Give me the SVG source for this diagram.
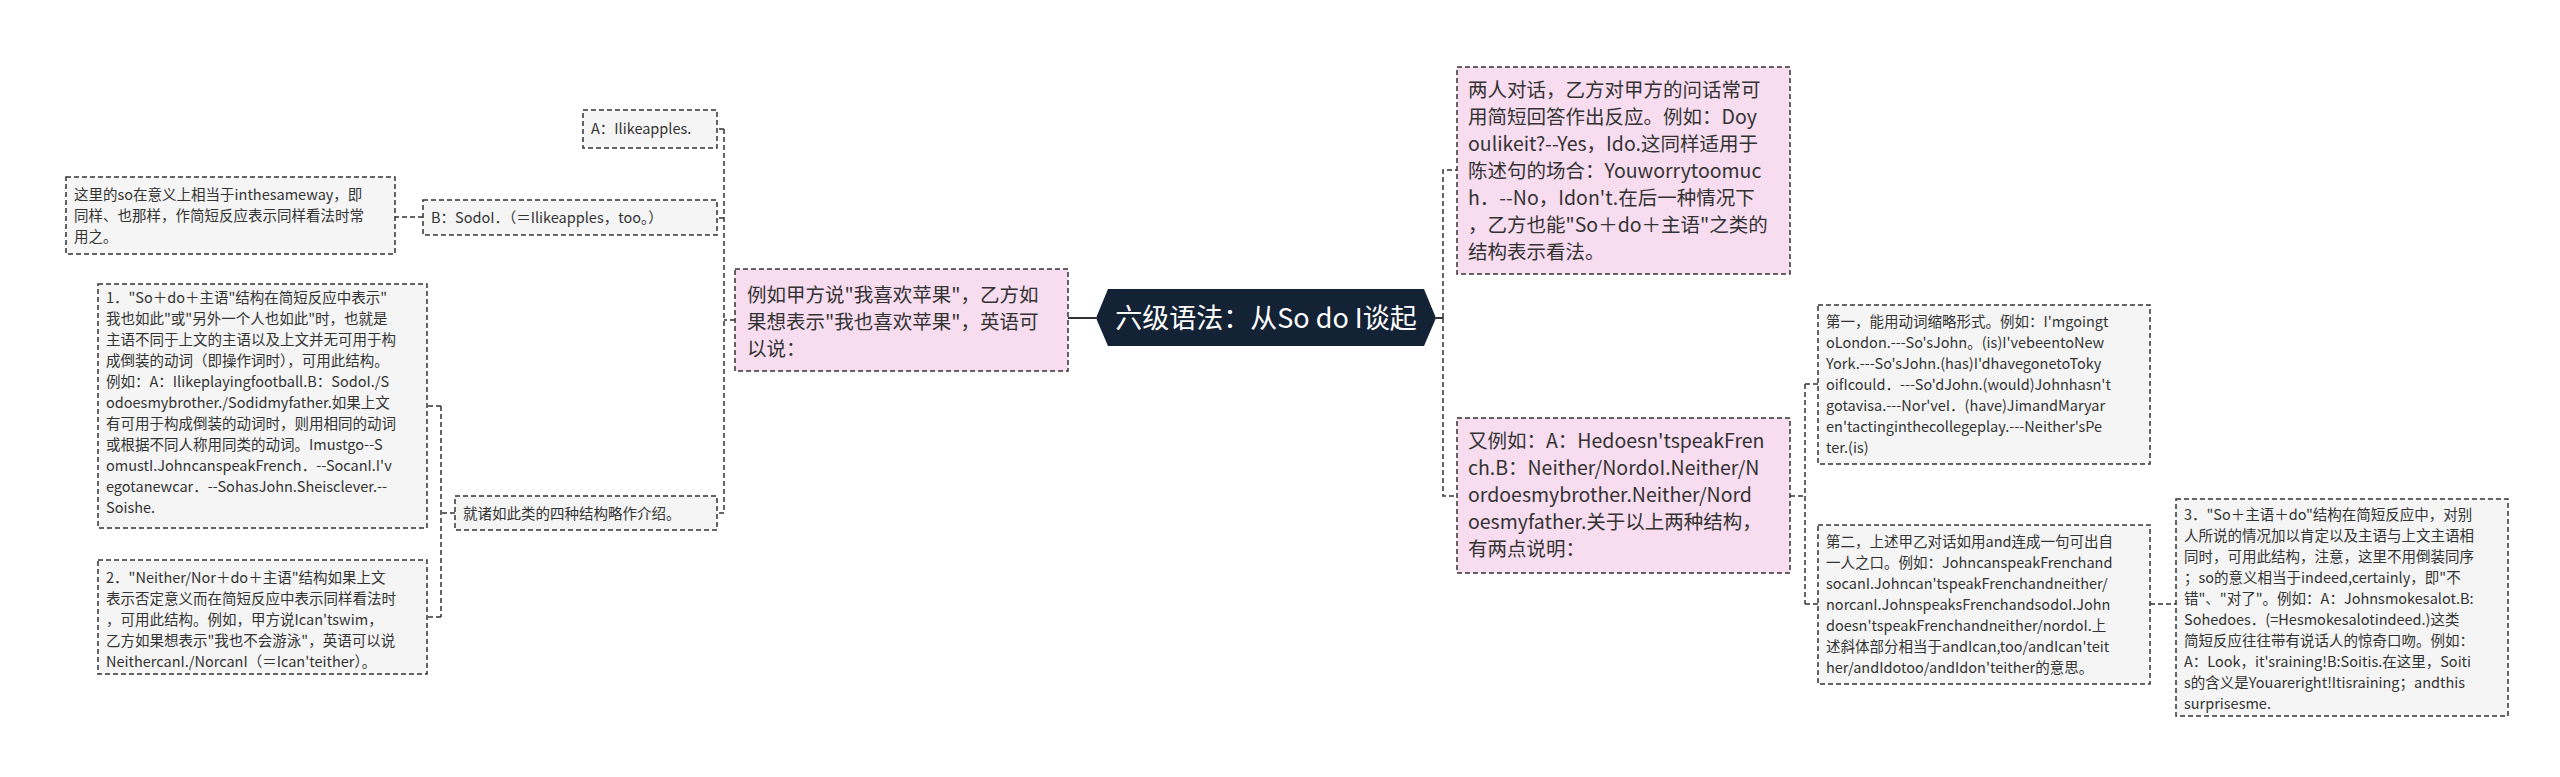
<svg xmlns="http://www.w3.org/2000/svg" width="2560" height="777" viewBox="0 0 2560 777">
<style>
text{font-family:"Noto Sans CJK SC","Noto Sans",sans-serif;fill:#333}
.g rect{fill:#f5f5f5;stroke:#333;stroke-width:1.5;stroke-dasharray:5,3}
.p rect{fill:#f8dcf0;stroke:#333;stroke-width:1.5;stroke-dasharray:5,3}
.g text{font-size:14.5px}
.p text{font-size:19.5px}
.c path{fill:none;stroke:#333;stroke-width:1.5;stroke-dasharray:5,3}
</style>
<g class="c" id="connectors">
<path d="M1096 318H1068" style="stroke-dasharray:none;stroke-width:2"/>
<path d="M1436 318H1443" style="stroke-dasharray:none;stroke-width:2"/>
<path d="M735 320H724M724 129V513M724 129H717M724 218H717M724 513H717"/>
<path d="M423 217H395"/>
<path d="M455 513H441M441 406V617M441 406H427M441 617H427"/>
<path d="M1443 318V170H1457M1443 318V496H1457"/>
<path d="M1790 496H1805M1805 384V604M1805 384H1818M1805 604H1818"/>
<path d="M2150 604H2176"/>
</g>
<g id="center">
<polygon points="1108,289 1424,289 1436,318 1424,346 1108,346 1096,318" fill="#142235"/>
<text x="1266" y="328" text-anchor="middle" style="font-size:27px;fill:#fff">六级语法：从So do I谈起</text>
</g>
<g id="n_left" class="p"><rect x="735" y="269" width="333" height="102"/>
<text x="747" y="302">例如甲方说"我喜欢苹果"，乙方如</text><text x="747" y="329">果想表示"我也喜欢苹果"，英语可</text><text x="747" y="356">以说：</text></g>
<g id="n_a" class="g"><rect x="583" y="110" width="134" height="38"/><text x="591" y="134">A：Ilikeapples.</text></g>
<g id="n_b" class="g"><rect x="423" y="200" width="294" height="35"/><text x="431" y="223">B：SodoI．（＝Ilikeapples，too。）</text></g>
<g id="n_so" class="g"><rect x="66" y="177" width="329" height="77"/>
<text x="74" y="200">这里的so在意义上相当于inthesameway，即</text><text x="74" y="221">同样、也那样，作简短反应表示同样看法时常</text><text x="74" y="242">用之。</text></g>
<g id="n_four" class="g"><rect x="455" y="496" width="262" height="34"/><text x="463" y="519">就诸如此类的四种结构略作介绍。</text></g>
<g id="n_1" class="g"><rect x="98" y="284" width="329" height="244"/>
<text x="106" y="303">1．"So＋do＋主语"结构在简短反应中表示"</text>
<text x="106" y="324">我也如此"或"另外一个人也如此"时，也就是</text>
<text x="106" y="345">主语不同于上文的主语以及上文并无可用于构</text>
<text x="106" y="366">成倒装的动词（即操作词时），可用此结构。</text>
<text x="106" y="387">例如：A：Ilikeplayingfootball.B：SodoI./S</text>
<text x="106" y="408">odoesmybrother./Sodidmyfather.如果上文</text>
<text x="106" y="429">有可用于构成倒装的动词时，则用相同的动词</text>
<text x="106" y="450">或根据不同人称用同类的动词。Imustgo--S</text>
<text x="106" y="471">omustI.JohncanspeakFrench．--SocanI.I'v</text>
<text x="106" y="492">egotanewcar．--SohasJohn.Sheisclever.--</text>
<text x="106" y="513">Soishe.</text></g>
<g id="n_2" class="g"><rect x="98" y="560" width="329" height="114"/>
<text x="106" y="583">2．"Neither/Nor＋do＋主语"结构如果上文</text>
<text x="106" y="604">表示否定意义而在简短反应中表示同样看法时</text>
<text x="106" y="625">，可用此结构。例如，甲方说Ican'tswim，</text>
<text x="106" y="646">乙方如果想表示"我也不会游泳"，英语可以说</text>
<text x="106" y="667">NeithercanI./NorcanI（＝Ican'teither）。</text></g>
<g id="n_two" class="p"><rect x="1457" y="67" width="333" height="207"/>
<text x="1468" y="97">两人对话，乙方对甲方的问话常可</text>
<text x="1468" y="124">用简短回答作出反应。例如：Doy</text>
<text x="1468" y="151">oulikeit?--Yes，Ido.这同样适用于</text>
<text x="1468" y="178">陈述句的场合：Youworrytoomuc</text>
<text x="1468" y="205">h．--No，Idon't.在后一种情况下</text>
<text x="1468" y="232">，乙方也能"So＋do＋主语"之类的</text>
<text x="1468" y="259">结构表示看法。</text></g>
<g id="n_again" class="p"><rect x="1457" y="418" width="333" height="155"/>
<text x="1468" y="448">又例如：A：Hedoesn'tspeakFren</text>
<text x="1468" y="475">ch.B：Neither/NordoI.Neither/N</text>
<text x="1468" y="502">ordoesmybrother.Neither/Nord</text>
<text x="1468" y="529">oesmyfather.关于以上两种结构，</text>
<text x="1468" y="556">有两点说明：</text></g>
<g id="n_first" class="g"><rect x="1818" y="305" width="332" height="159"/>
<text x="1826" y="327">第一，能用动词缩略形式。例如：I'mgoingt</text>
<text x="1826" y="348">oLondon.---So'sJohn。(is)I'vebeentoNew</text>
<text x="1826" y="369">York.---So'sJohn.(has)I'dhavegonetoToky</text>
<text x="1826" y="390">oifIcould．---So'dJohn.(would)Johnhasn't</text>
<text x="1826" y="411">gotavisa.---Nor'veI．(have)JimandMaryar</text>
<text x="1826" y="432">en'tactinginthecollegeplay.---Neither'sPe</text>
<text x="1826" y="453">ter.(is)</text></g>
<g id="n_second" class="g"><rect x="1818" y="525" width="332" height="159"/>
<text x="1826" y="547">第二，上述甲乙对话如用and连成一句可出自</text>
<text x="1826" y="568">一人之口。例如：JohncanspeakFrenchand</text>
<text x="1826" y="589">socanI.Johncan'tspeakFrenchandneither/</text>
<text x="1826" y="610">norcanI.JohnspeaksFrenchandsodoI.John</text>
<text x="1826" y="631">doesn'tspeakFrenchandneither/nordoI.上</text>
<text x="1826" y="652">述斜体部分相当于andIcan,too/andIcan'teit</text>
<text x="1826" y="673">her/andIdotoo/andIdon'teither的意思。</text></g>
<g id="n_3" class="g"><rect x="2176" y="499" width="332" height="217"/>
<text x="2184" y="520">3．"So＋主语＋do"结构在简短反应中，对别</text>
<text x="2184" y="541">人所说的情况加以肯定以及主语与上文主语相</text>
<text x="2184" y="562">同时，可用此结构，注意，这里不用倒装同序</text>
<text x="2184" y="583">；so的意义相当于indeed,certainly，即"不</text>
<text x="2184" y="604">错"、"对了"。例如：A：Johnsmokesalot.B:</text>
<text x="2184" y="625">Sohedoes．(=Hesmokesalotindeed.)这类</text>
<text x="2184" y="646">简短反应往往带有说话人的惊奇口吻。例如：</text>
<text x="2184" y="667">A：Look，it'sraining!B:Soitis.在这里，Soiti</text>
<text x="2184" y="688">s的含义是Youareright!Itisraining；andthis</text>
<text x="2184" y="709">surprisesme.</text></g>
</svg>
